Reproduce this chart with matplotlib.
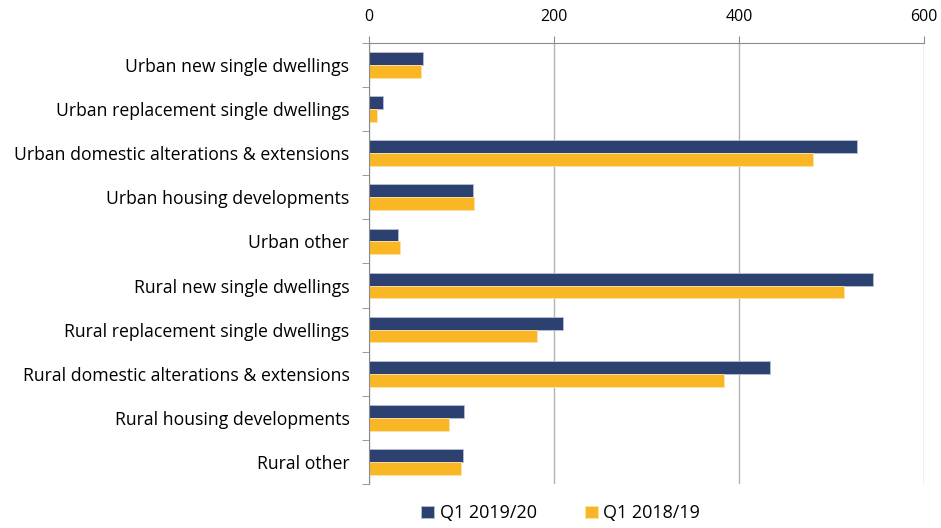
import numpy as np
import matplotlib
matplotlib.use('Agg')
import matplotlib.pyplot as plt

plt.rcParams['font.family'] = ['Open Sans', 'DejaVu Sans']

categories = [
    'Urban new single dwellings',
    'Urban replacement single dwellings',
    'Urban domestic alterations & extensions',
    'Urban housing developments',
    'Urban other',
    'Rural new single dwellings',
    'Rural replacement single dwellings',
    'Rural domestic alterations & extensions',
    'Rural housing developments',
    'Rural other',
]
q1_2019 = [59, 15, 527, 112, 31, 545, 210, 433, 103, 102]
q1_2018 = [56, 9, 480, 114, 34, 513, 182, 384, 87, 100]
xticks = [0, 200, 400, 600]

navy = '#2C4170'
orange = '#F9B625'

fig = plt.figure(figsize=(9.41, 5.28), dpi=100)
ax = fig.add_axes([0.392, 0.083, 0.590, 0.836])

y = np.arange(len(categories))
h = 0.29
ax.barh(y - h / 2, q1_2019, height=h, color=navy, edgecolor='#B8C0D4', linewidth=0.6, label='Q1 2019/20')
ax.barh(y + h / 2, q1_2018, height=h, color=orange, edgecolor='#FCE3A8', linewidth=0.6, label='Q1 2018/19')

ax.set_ylim(len(categories) - 0.5, -0.5)
ax.set_xlim(0, 600)
ax.set_xticks(xticks)
ax.xaxis.tick_top()
ax.tick_params(axis='x', length=5, color='#8C8C8C', labelsize=11.5, pad=8)
ax.grid(axis='x', color='#B3B3B3', linewidth=1)
ax.set_axisbelow(True)

# category labels in the middle, tick marks between categories
ax.set_yticks(y)
ax.set_yticklabels(categories, fontsize=12.7)
ax.tick_params(axis='y', length=0, pad=14)
ax.set_yticks(np.arange(len(categories) + 1) - 0.5, minor=True)
ax.tick_params(axis='y', which='minor', length=5, color='#8C8C8C')

for s in ['right', 'bottom']:
    ax.spines[s].set_visible(False)
for s in ['left', 'top']:
    ax.spines[s].set_color('#8C8C8C')

fig.legend(loc='lower center', bbox_to_anchor=(0.596, -0.02), ncol=2, frameon=False,
           fontsize=13, handlelength=0.7, handleheight=0.7, columnspacing=2.7, handletextpad=0.3)

fig.savefig('out.png', dpi=100)
